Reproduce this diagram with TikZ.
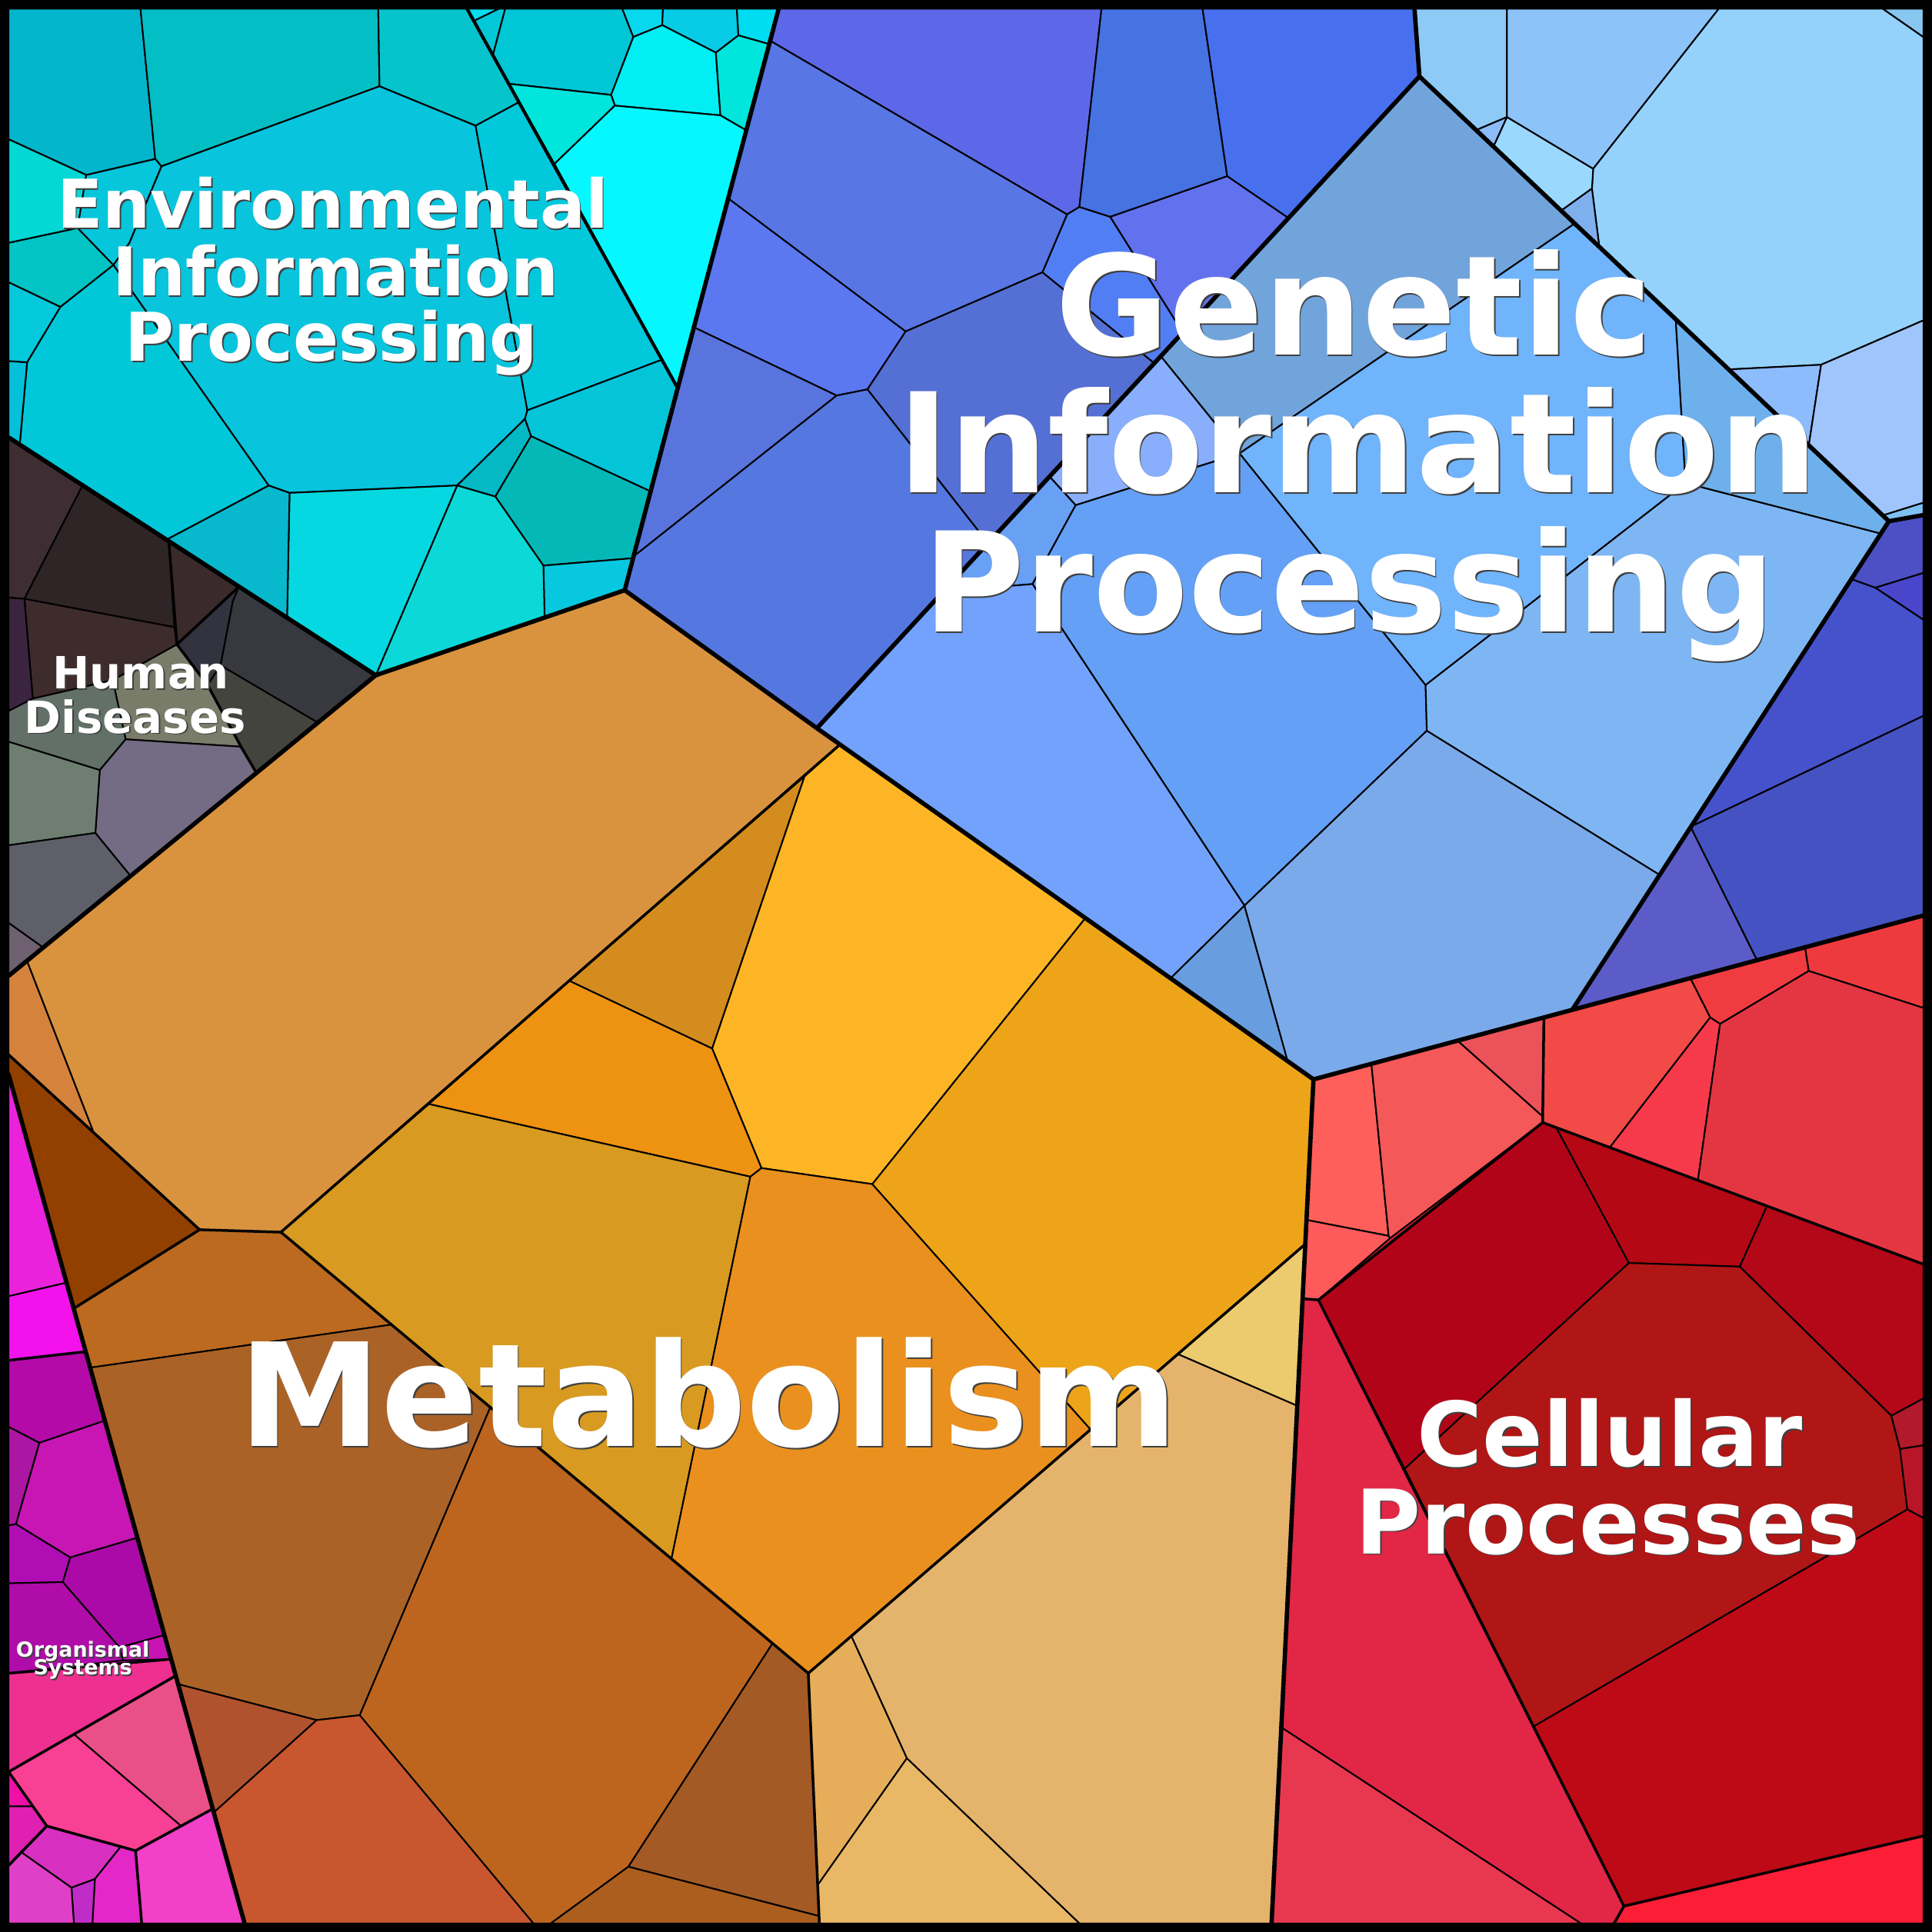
\documentclass[tikz,border=0pt]{standalone}
\usepackage{fontspec}
\newfontfamily\labfont{DejaVu Sans}
\tikzset{
 cellsty/.style={draw=black,line width=0.36pt,line join=round},
 midline/.style={draw=black,line width=0.62pt,line join=round,line cap=round},
 envline/.style={draw=black,line width=0.75pt,line join=round,line cap=round},
 topline/.style={draw=black,line width=1.0pt,line join=round,line cap=round},
 lab/.style={text=white,inner sep=0pt,anchor=base},
 labsh/.style={text=black!75,inner sep=0pt,anchor=base},
}
\newcommand\cellc[2]{\definecolor{tmpc}{HTML}{#1}\filldraw[cellsty,fill=tmpc] #2 -- cycle;}
\newcommand\regc[2]{\definecolor{tmpc}{HTML}{#1}\fill[tmpc] #2 -- cycle;}
\newcommand\labline[5]{%
 \node[labsh,font={\labfont\bfseries\fontsize{#4}{#4}\selectfont}] (#1s) at (#2+1,#3+1) {#5};
 \node[lab,font={\labfont\bfseries\fontsize{#4}{#4}\selectfont}] (#1) at (#2,#3) {#5};}
\begin{document}
\begin{tikzpicture}[x=0.01cm,y=-0.01cm]
\useasboundingbox (0,0) rectangle (1568,1568);
\fill[black] (0,0) rectangle (1568,1568);
% region bases
\regc{08C4DC}{(7,7) -- (632,7) -- (550,315) -- (507,479) -- (305,548) -- (7,355)}
\regc{3E3A40}{(7,355) -- (305,548) -- (7,792)}
\regc{D9933F}{(7,792) -- (305,548) -- (507,479) -- (1066,876) -- (1032,1561) -- (198.5,1561) -- (7,872)}
\regc{C814B4}{(7,872) -- (198.5,1561) -- (7,1561)}
\regc{6AA0F0}{(632,7) -- (1561,7) -- (1561,743) -- (1066,876) -- (507,479) -- (550,315)}
\regc{D02030}{(1066,876) -- (1561,743) -- (1561,1561) -- (1032,1561)}
% ---------- Environmental: wedge
\cellc{08DCF0}{(379,7) -- (405,7) -- (384.6,17)}
\cellc{02C8D8}{(384.6,17) -- (405,7) -- (410,7) -- (400,45)}
\cellc{00C6D6}{(410,7) -- (505,7) -- (514,30) -- (496,77) -- (413,68) -- (400,45)}
\cellc{08D8EE}{(505,7) -- (538,7) -- (537.5,20.4) -- (514,30)}
\cellc{08CCE6}{(538,7) -- (598,7) -- (599.3,28.7) -- (581,42.7) -- (537.5,20.4)}
\cellc{00DCF0}{(598,7) -- (632,7) -- (624.3,35.8) -- (599.3,28.7)}
\cellc{00EEF4}{(514,30) -- (537.5,20.4) -- (581,42.7) -- (584.7,93.6) -- (499,85.7) -- (496,77)}
\cellc{00E6DC}{(581,42.7) -- (599.3,28.7) -- (624.3,35.8) -- (606,106) -- (584.7,93.6)}
\cellc{00E6DC}{(413,68) -- (496,77) -- (499,85.7) -- (450,133)}
\cellc{05F8FF}{(499,85.7) -- (584.7,93.6) -- (606,106) -- (550,315) -- (450,133)}
% ---------- Environmental: main
\cellc{03B6CC}{(7,7) -- (114,7) -- (126,129) -- (70,142) -- (7,113)}
\cellc{03BEC4}{(114,7) -- (307,7) -- (308,70) -- (131,135) -- (126,129)}
\cellc{05C4CC}{(307,7) -- (379,7) -- (421,83) -- (386,102) -- (308,70)}
\cellc{08C4DC}{(131,135) -- (308,70) -- (386,102) -- (428,333) -- (426,340) -- (371,394) -- (235,400) -- (218,394) -- (92,215) -- (105,197)}
\cellc{02C8DC}{(386,102) -- (421,83) -- (537,292) -- (428,333)}
\cellc{04C4D8}{(428,333) -- (537,292) -- (550,315) -- (528.5,399) -- (431,354) -- (426,340)}
\cellc{04B8C4}{(426,340) -- (431,354) -- (402,403) -- (371,394)}
\cellc{04B8B8}{(431,354) -- (528.5,399) -- (514,453) -- (441,459) -- (402,403)}
\cellc{08C8E0}{(441,459) -- (514,453) -- (507,479) -- (442,501)}
\cellc{0CD8D8}{(371,394) -- (402,403) -- (441,459) -- (442,501) -- (305,548)}
\cellc{05D8E0}{(235,400) -- (371,394) -- (305,548) -- (233,501)}
\cellc{08B8CC}{(218,394) -- (235,400) -- (233,501) -- (135,438)}
\cellc{00C8D8}{(92,215) -- (218,394) -- (135,438) -- (16,361) -- (22,294) -- (49,249)}
\cellc{04C0D8}{(7,293) -- (22,294) -- (16,361) -- (7,355)}
\cellc{04C8DC}{(7,229) -- (49,249) -- (22,294) -- (7,293)}
\cellc{02C4C4}{(7,197) -- (63,185) -- (92,215) -- (49,249) -- (7,229)}
\cellc{04D8D4}{(7,113) -- (70,142) -- (63,185) -- (7,197)}
\cellc{06C6DC}{(70,142) -- (126,129) -- (131,135) -- (105,197) -- (92,215) -- (63,185)}
% ---------- Human Diseases
\cellc{3E2D33}{(7,355) -- (67,394) -- (19.8,486) -- (7,485)}
\cellc{2F2526}{(67,394) -- (137,439) -- (141.5,509) -- (19.8,486)}
\cellc{3E2C2C}{(19.8,486) -- (141.5,509) -- (143.6,523) -- (91.5,552) -- (26.6,567)}
\cellc{3A2440}{(7,485) -- (19.8,486) -- (26.6,567) -- (7,577)}
\cellc{3A2A2C}{(137,439) -- (194,476) -- (143.6,523)}
\cellc{33333F}{(194,476) -- (189,488) -- (179,540) -- (168.5,556) -- (143.6,523)}
\cellc{38393F}{(194,476) -- (305,548) -- (258,586.5) -- (179,540) -- (189,488)}
\cellc{44443F}{(179,540) -- (258,586.5) -- (208,627) -- (195.6,606) -- (168.5,556)}
\cellc{7A7C6A}{(91.5,552) -- (143.6,523) -- (168.5,556) -- (195.6,606) -- (102,600)}
\cellc{627068}{(26.6,567) -- (91.5,552) -- (102,600) -- (81,625) -- (7,602) -- (7,577)}
\cellc{736C84}{(102,600) -- (195.6,606) -- (208,627) -- (106,711) -- (77.4,676) -- (81,625)}
\cellc{6E7F72}{(7,602) -- (81,625) -- (77.4,676) -- (7,686)}
\cellc{5E5F68}{(7,686) -- (77.4,676) -- (106,711) -- (35,769) -- (7,749)}
\cellc{6E6070}{(7,749) -- (35,769) -- (7,792)}
% ---------- Metabolism
\cellc{D5823C}{(7,792) -- (22,780) -- (76,919) -- (7,856)}
\cellc{D9933F}{(22,780) -- (305,548) -- (507,479) -- (682,604) -- (653,630) -- (462,796) -- (348,896) -- (228,1000) -- (162,998) -- (76,919)}
\cellc{924000}{(7,856) -- (76,919) -- (162,998) -- (59.8,1062) -- (7,872)}
\cellc{BB6A20}{(59.8,1062) -- (162,998) -- (228,1000) -- (318,1075) -- (73,1110)}
\cellc{AB6226}{(73,1110) -- (318,1075) -- (398,1142) -- (292,1392) -- (257,1396) -- (145.2,1367)}
\cellc{B0522E}{(145.2,1367) -- (257,1396) -- (173.5,1471)}
\cellc{C8562E}{(257,1396) -- (292,1392) -- (433,1561) -- (198.5,1561) -- (173.5,1471)}
\cellc{BD651E}{(292,1392) -- (398,1142) -- (627,1333.7) -- (510,1515) -- (447,1561) -- (433,1561)}
\cellc{A35A24}{(627,1333.7) -- (656,1358) -- (664.7,1555) -- (510,1515)}
\cellc{AB5E1E}{(510,1515) -- (664.7,1555) -- (665,1561) -- (447,1561)}
\cellc{D48C1E}{(653,630) -- (578,851) -- (462,796)}
\cellc{FDB526}{(682,604) -- (881,745) -- (708,961) -- (618,948) -- (578,851) -- (653,630)}
\cellc{EE9212}{(462,796) -- (578,851) -- (618,948) -- (609,955) -- (348,896)}
\cellc{D89A20}{(348,896) -- (609,955) -- (545,1265) -- (228,1000)}
\cellc{EA901E}{(609,955) -- (618,948) -- (708,961) -- (885,1160) -- (656,1358) -- (545,1265)}
\cellc{EEA418}{(881,745) -- (1066,876) -- (1059,1010) -- (885,1160) -- (708,961)}
\cellc{ECCA6E}{(956,1099) -- (1059,1010) -- (1053,1141)}
\cellc{E4B46C}{(691,1328) -- (885,1160) -- (956,1099) -- (1053,1141) -- (1032,1561) -- (876,1561) -- (736,1427)}
\cellc{E6AE5A}{(656,1358) -- (691,1328) -- (736,1427) -- (663.6,1530)}
\cellc{E8B866}{(663.6,1530) -- (736,1427) -- (876,1561) -- (665,1561)}
% ---------- Organismal Systems
\cellc{EA22DC}{(7,872) -- (54,1041) -- (7,1052)}
\cellc{F412EC}{(7,1052) -- (54,1041) -- (69.5,1097) -- (7,1104)}
\cellc{B40AA8}{(7,1104) -- (69.5,1097) -- (85,1153) -- (32,1171) -- (7,1158)}
\cellc{AC16A2}{(7,1158) -- (32,1171) -- (13,1237) -- (7,1238)}
\cellc{C816B4}{(32,1171) -- (85,1153) -- (111.5,1248) -- (57,1264) -- (13,1237)}
\cellc{B00EB4}{(7,1238) -- (13,1237) -- (57,1264) -- (51,1284) -- (7,1285)}
\cellc{AC0AA8}{(57,1264) -- (111.5,1248) -- (133.5,1327) -- (97,1337) -- (51,1284)}
\cellc{B00CAA}{(7,1285) -- (51,1284) -- (97,1337) -- (100,1347.5) -- (7,1358)}
\cellc{C814B4}{(97,1337) -- (133.5,1327) -- (139,1346.5) -- (100,1347.5)}
\cellc{EE3090}{(7,1358) -- (139,1346.5) -- (142.7,1360) -- (60,1407.5) -- (7,1438)}
\cellc{EA5088}{(142.7,1360) -- (172.7,1468) -- (147,1482) -- (60,1407.5)}
\cellc{F84094}{(7,1438) -- (60,1407.5) -- (147,1482) -- (110,1502) -- (38,1482)}
\cellc{F010A8}{(7,1438) -- (26.7,1466) -- (7,1466)}
\cellc{E020B0}{(7,1466) -- (26.7,1466) -- (38,1482) -- (17,1503) -- (7,1514)}
\cellc{D830C0}{(38,1482) -- (98,1498.7) -- (77,1525) -- (58,1532) -- (17,1503)}
\cellc{E428C8}{(98,1498.7) -- (110,1502) -- (115,1561) -- (75,1561) -- (77,1525)}
\cellc{C02CC8}{(58,1532) -- (77,1525) -- (75,1561) -- (60,1561)}
\cellc{E040C8}{(7,1514) -- (17,1503) -- (58,1532) -- (60,1561) -- (7,1561)}
\cellc{F240C8}{(110,1502) -- (147,1482) -- (172.7,1468) -- (198.5,1561) -- (115,1561)}
% ---------- Genetic: left group
\cellc{5C68E8}{(632,7) -- (894,7) -- (876,168) -- (866,174) -- (625,33)}
\cellc{4672E2}{(894,7) -- (976,7) -- (996,143) -- (901,176) -- (876,168)}
\cellc{4870EE}{(976,7) -- (1148,7) -- (1152,62) -- (1045.7,177) -- (996,143)}
\cellc{6272EE}{(901,176) -- (996,143) -- (1045.7,177) -- (960,270)}
\cellc{527EF4}{(866,174) -- (876,168) -- (901,176) -- (960,270) -- (937,295) -- (846,221)}
\cellc{5876E4}{(625,33) -- (866,174) -- (846,221) -- (735,269) -- (591,161)}
\cellc{5B78F0}{(591,161) -- (735,269) -- (704,316) -- (679,321) -- (564,266)}
\cellc{5570D4}{(735,269) -- (846,221) -- (937,295) -- (802,441) -- (704,316)}
\cellc{5974DC}{(564,266) -- (679,321) -- (515,451)}
\cellc{5577E0}{(679,321) -- (704,316) -- (802,441) -- (663,591) -- (507,479) -- (515,451)}
% ---------- Genetic: middle group
\cellc{72A4DC}{(1152,62) -- (1278,181.4) -- (1006,368) -- (942,289)}
\cellc{88AEFC}{(942,289) -- (1006,368) -- (873,410) -- (852,387)}
\cellc{70B4FC}{(1006,368) -- (1278,181.4) -- (1360,259) -- (1368,392) -- (1157,556)}
\cellc{68A0F4}{(852,387) -- (873,410) -- (838,474) -- (765.6,480)}
\cellc{64A0F6}{(873,410) -- (1006,368) -- (1157,556) -- (1158,593) -- (1010,735) -- (838,474)}
\cellc{72A2FC}{(765.6,480) -- (838,474) -- (1010,735) -- (950,794) -- (663,591)}
\cellc{689EE0}{(950,794) -- (1010,735) -- (1045,861)}
\cellc{7AAAEA}{(1010,735) -- (1158,593) -- (1347,710) -- (1276,819.6) -- (1066,876) -- (1045,861)}
\cellc{7EB6F4}{(1157,556) -- (1368,392) -- (1526.5,433) -- (1347,710) -- (1158,593)}
\cellc{6EB0EC}{(1360,259) -- (1533,423) -- (1526.5,433) -- (1368,392)}
% ---------- Genetic: top right group
\cellc{8ECAF6}{(1148,7) -- (1223,7) -- (1223,95) -- (1198,105.6) -- (1152,62)}
\cellc{8CC4FA}{(1223,7) -- (1395,7) -- (1293,137) -- (1223,95)}
\cellc{94D2FC}{(1395,7) -- (1528,7) -- (1561,30) -- (1561,260) -- (1478,296) -- (1403,299.8) -- (1298,200.3) -- (1292,153) -- (1293,137)}
\cellc{9AD8FE}{(1223,95) -- (1293,137) -- (1292,153) -- (1267,171) -- (1212,119)}
\cellc{8CBCF8}{(1198,105.6) -- (1223,95) -- (1212,119)}
\cellc{7EB0EE}{(1267,171) -- (1292,153) -- (1298,200.3)}
\cellc{88C8F0}{(1528,7) -- (1561,7) -- (1561,30)}
\cellc{8CBCFC}{(1403,299.8) -- (1478,296) -- (1468,361.4)}
\cellc{A0C4FC}{(1478,296) -- (1561,260) -- (1561,408) -- (1528,418.3) -- (1468,361.4)}
\cellc{7EC0F4}{(1528,418.3) -- (1561,408) -- (1561,418) -- (1533,423)}
% ---------- Genetic: bottom right group
\cellc{4C50C4}{(1533,423) -- (1561,418) -- (1561,465) -- (1522,477) -- (1502.5,470)}
\cellc{4A46CC}{(1522,477) -- (1561,465) -- (1561,503)}
\cellc{4652CC}{(1502.5,470) -- (1522,477) -- (1561,503) -- (1561,581) -- (1372,671)}
\cellc{4452C2}{(1372,671) -- (1561,581) -- (1561,743) -- (1426,779.4)}
\cellc{5C5CC8}{(1372,671) -- (1426,779.4) -- (1276,819.6)}
% ---------- Cellular Processes
\cellc{FE5F5A}{(1066,876) -- (1113,863.4) -- (1127,1003) -- (1060,990)}
\cellc{F45858}{(1113,863.4) -- (1183,844.6) -- (1252,906) -- (1252,911) -- (1128,1005) -- (1127,1003)}
\cellc{EC525A}{(1183,844.6) -- (1253,826) -- (1252,906)}
\cellc{FE5A5C}{(1060,990) -- (1127,1003) -- (1128,1005) -- (1070,1055) -- (1057,1054)}
\cellc{F24A46}{(1253,826) -- (1372,794) -- (1388,825.7) -- (1306.7,931) -- (1252,911)}
\cellc{F03C40}{(1372,794) -- (1465,769) -- (1468,788) -- (1396,831) -- (1388,825.7)}
\cellc{EE3A3E}{(1465,769) -- (1561,743) -- (1561,818) -- (1468,788)}
\cellc{F63A4C}{(1388,825.7) -- (1396,831) -- (1378,958) -- (1306.7,931)}
\cellc{E43642}{(1396,831) -- (1468,788) -- (1561,818) -- (1561,1026) -- (1378,958)}
\cellc{B20418}{(1070,1055) -- (1252,911) -- (1263,915) -- (1322,1025) -- (1140,1192)}
\cellc{B40814}{(1263,915) -- (1434,979) -- (1412,1028) -- (1322,1025)}
\cellc{B20818}{(1434,979) -- (1561,1026) -- (1561,1135) -- (1535,1149) -- (1412,1028)}
\cellc{B01616}{(1140,1192) -- (1322,1025) -- (1412,1028) -- (1535,1149) -- (1542,1176) -- (1548,1225) -- (1245,1401)}
\cellc{B01A2A}{(1535,1149) -- (1561,1135) -- (1561,1173) -- (1542,1176)}
\cellc{B81628}{(1542,1176) -- (1561,1173) -- (1561,1232) -- (1548,1225)}
\cellc{BE0A16}{(1245,1401) -- (1548,1225) -- (1561,1232) -- (1561,1490) -- (1318,1547)}
\cellc{E12646}{(1057,1054) -- (1070,1055) -- (1318,1547) -- (1310,1561) -- (1283,1561) -- (1040,1402)}
\cellc{E83850}{(1040,1402) -- (1283,1561) -- (1032,1561)}
\cellc{FC1E36}{(1318,1547) -- (1561,1490) -- (1561,1561) -- (1310,1561)}
% ---------- second level boundaries
\draw[envline] (379,7) -- (550,315);
\draw[midline] (137,439) -- (143.6,523) -- (194,476);
\draw[midline] (143.6,523) -- (168.5,556) -- (195.6,606) -- (208,627);
\draw[midline] (7,856) -- (162,998) -- (59.8,1062);
\draw[midline] (162,998) -- (228,1000);
\draw[midline] (682,604) -- (228,1000) -- (656,1358) -- (665,1561);
\draw[midline] (656,1358) -- (1059,1010);
\draw[midline] (7,1104) -- (69.5,1097);
\draw[midline] (7,1358) -- (139,1346.5);
\draw[midline] (142.7,1360) -- (7,1438) -- (38,1482) -- (7,1514);
\draw[midline] (38,1482) -- (110,1502) -- (172.7,1468);
\draw[midline] (110,1502) -- (115,1561);
\draw[midline] (1253,826) -- (1252,911) -- (1561,1026);
\draw[midline] (1252,911) -- (1070,1055) -- (1057,1054);
\draw[midline] (1070,1055) -- (1318,1547) -- (1310,1561);
\draw[midline] (1318,1547) -- (1561,1490);
\draw[topline] (1148,7) -- (1152,62) -- (663,591);
\draw[topline] (1152,62) -- (1533,423) -- (1561,418);
\draw[topline] (1533,423) -- (1276,819.6);
% ---------- top level boundaries
\draw[topline] (632,7) -- (550,315) -- (507,479);
\draw[topline] (7,355) -- (305,548) -- (507,479) -- (663,591) -- (1066,876) -- (1561,743);
\draw[topline] (305,548) -- (7,792);
\draw[topline] (1066,876) -- (1032,1561);
\draw[topline] (7,872) -- (198.5,1561);
% ---------- frame
\fill[black,even odd rule] (0,0) rectangle (1568,1568) (7,7) rectangle (1561,1561);
% ---------- labels
\labline{envA}{270}{185}{15.5pt}{Environmental}
\labline{envB}{272.5}{240}{15.5pt}{Information}
\labline{envC}{269}{293}{15.5pt}{Processing}
\labline{genA}{1099}{288}{32pt}{Genetic}
\labline{genB}{1102}{400}{32pt}{Information}
\labline{genC}{1095}{513}{32pt}{Processing}
\labline{metA}{575}{1174}{33.1pt}{Metabolism}
\labline{celA}{1306.5}{1190}{20.6pt}{Cellular}
\labline{celB}{1305}{1261}{20.6pt}{Processes}
\labline{humA}{114.4}{559}{10.24pt}{Human}
\labline{humB}{109.7}{595}{10.24pt}{Diseases}
\labline{orgA}{67.2}{1345}{4.78pt}{Organismal}
\labline{orgB}{67.2}{1359.3}{4.78pt}{Systems}
\end{tikzpicture}
\end{document}
